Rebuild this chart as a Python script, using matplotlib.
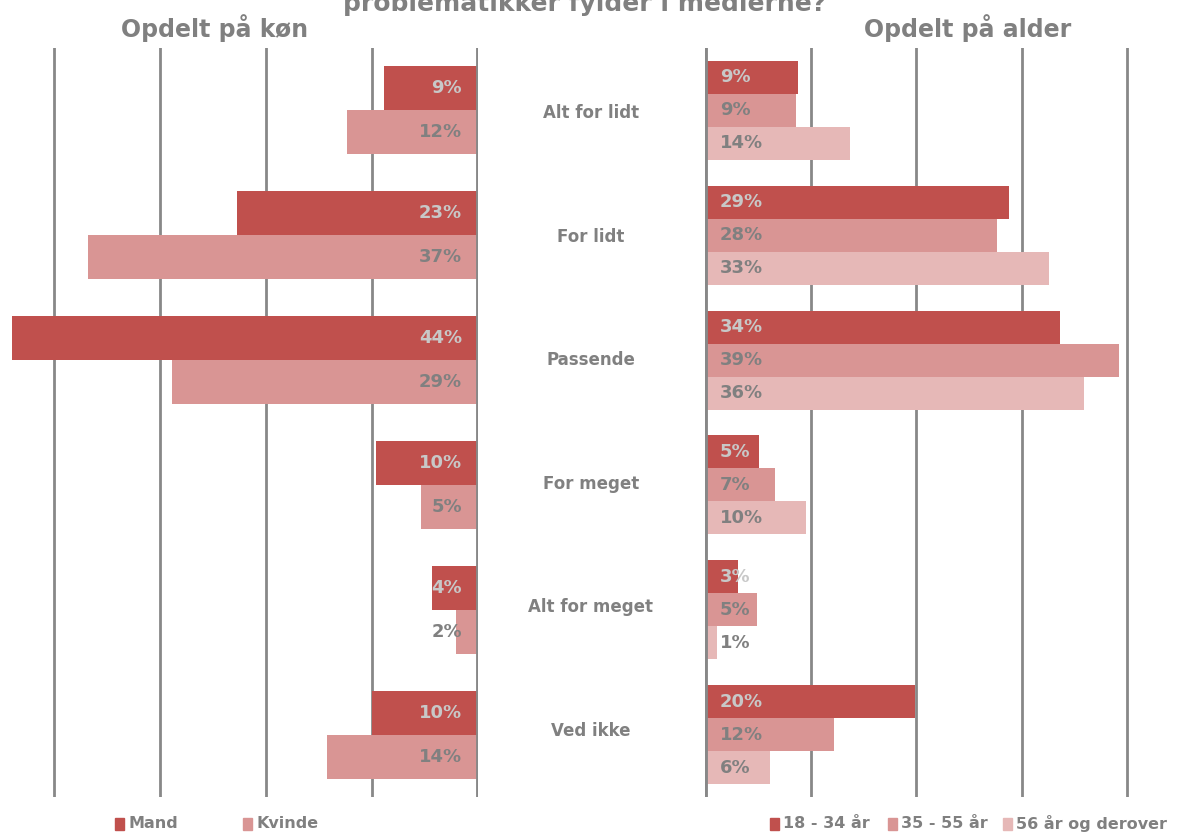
import numpy as np
import matplotlib.pyplot as plt

# data
kategorier = ["Alt for lidt", "For lidt", "Passende", "For meget", "Alt for meget", "Ved ikke"]
mand = [8.9, 22.7, 44.0, 9.6, 4.3, 10.0]
kvinde = [12.4, 36.8, 28.9, 5.4, 2.1, 14.2]
alder_18_34 = [8.8, 28.8, 33.6, 5.1, 3.1, 19.9]
alder_35_55 = [8.6, 27.7, 39.2, 6.6, 4.9, 12.2]
alder_56 = [13.7, 32.6, 35.9, 9.6, 1.1, 6.2]

# farver
RED = "#C0504D"
PINK = "#D99594"
LIGHT = "#E6B8B7"
GREY = "#808080"
LGREY = "#C8C8C8"
GRID = "#888888"

plt.rcParams["font.family"] = ["DejaVu Sans"]

fig = plt.figure(figsize=(11.8, 8.34), dpi=100)
W, H = 1180, 834
top_px, bot_px = 48, 797
b = (H - bot_px) / H
h = (bot_px - top_px) / H

axL = fig.add_axes([1 / W, b, 477 / W, h])
axR = fig.add_axes([705 / W, b, 475 / W, h])

y = np.arange(len(kategorier))

def style(ax):
    for s in ax.spines.values():
        s.set_visible(False)
    ax.set_xticks([])
    ax.set_yticks([])
    ax.set_ylim(len(kategorier) - 0.5, -0.5)
    for g in [10, 20, 30, 40]:
        ax.axvline(g, color=GRID, lw=2, zorder=0)
    ax.axvline(0, color=GRID, lw=3.5, zorder=3)

# venstre panel: køn
bh = 0.353
axL.barh(y - bh / 2, mand, height=bh, color=RED, zorder=2)
axL.barh(y + bh / 2, kvinde, height=bh, color=PINK, zorder=2)
axL.set_xlim(45, 0)
style(axL)
for i in range(len(kategorier)):
    axL.text(1.5, y[i] - bh / 2, f"{mand[i]:.0f}%", ha="right", va="center",
             color=LGREY, fontsize=13, fontweight="bold", zorder=4)
    axL.text(1.5, y[i] + bh / 2, f"{kvinde[i]:.0f}%", ha="right", va="center",
             color=GREY, fontsize=13, fontweight="bold", zorder=4)

# højre panel: alder
rh = 0.264
axR.barh(y - rh, alder_18_34, height=rh, color=RED, zorder=2)
axR.barh(y, alder_35_55, height=rh, color=PINK, zorder=2)
axR.barh(y + rh, alder_56, height=rh, color=LIGHT, zorder=2)
axR.set_xlim(0, 45)
style(axR)
for i in range(len(kategorier)):
    axR.text(1.4, y[i] - rh, f"{alder_18_34[i]:.0f}%", ha="left", va="center",
             color=LGREY, fontsize=13, fontweight="bold", zorder=4)
    axR.text(1.4, y[i], f"{alder_35_55[i]:.0f}%", ha="left", va="center",
             color=GREY, fontsize=13, fontweight="bold", zorder=4)
    axR.text(1.4, y[i] + rh, f"{alder_56[i]:.0f}%", ha="left", va="center",
             color=GREY, fontsize=13, fontweight="bold", zorder=4)

# kategorier i midten
for i, k in enumerate(kategorier):
    yc = 113 + i * 123.6
    fig.text(591 / W, 1 - yc / H, k, ha="center", va="center",
             color=GREY, fontsize=12, fontweight="bold")

# overskrifter (titlen er skåret af i toppen som i originalen)
fig.text(585 / W, 1 - 4 / H, "problematikker fylder i medierne?", ha="center", va="center",
         color=GREY, fontsize=18, fontweight="bold")
fig.text(215 / W, 1 - 28 / H, "Opdelt på køn", ha="center", va="center",
         color=GREY, fontsize=17, fontweight="bold")
fig.text(968 / W, 1 - 28 / H, "Opdelt på alder", ha="center", va="center",
         color=GREY, fontsize=17, fontweight="bold")

# legender
def legend_item(x, label, color):
    fig.patches.append(plt.Rectangle(((x - 13) / W, 1 - 830 / H), 9 / W, 12 / H,
                                     transform=fig.transFigure, color=color))
    fig.text(x / W, 1 - 824 / H, label, ha="left", va="center",
             color=GREY, fontsize=11.5, fontweight="bold")

legend_item(128, "Mand", RED)
legend_item(256, "Kvinde", PINK)
legend_item(783, "18 - 34 år", RED)
legend_item(901, "35 - 55 år", PINK)
legend_item(1016, "56 år og derover", LIGHT)

fig.savefig("out.png", dpi=100)
